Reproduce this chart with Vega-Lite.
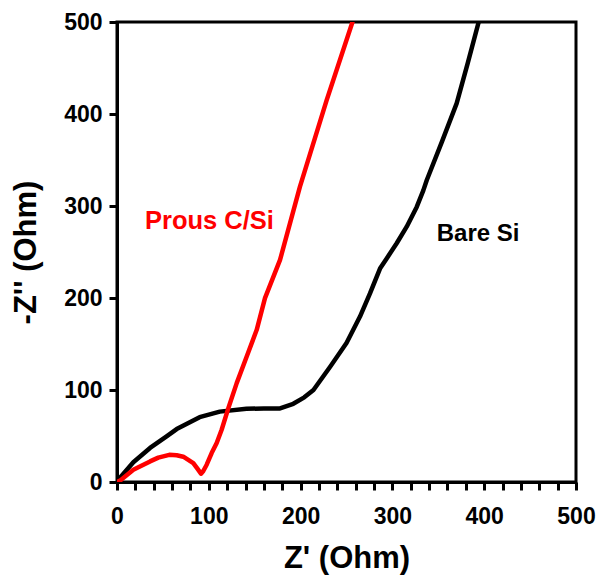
{
  "$schema": "https://vega.github.io/schema/vega-lite/v6.json",
  "width": 459,
  "height": 460,
  "autosize": {"type": "none"},
  "padding": {"left": 117, "top": 22, "right": 25, "bottom": 102},
  "background": "white",
  "config": {"view": {"stroke": "black", "strokeWidth": 3}, "font": "Liberation Sans"},
  "datasets": {
    "curves": [
      {"sample": "Bare Si", "i": 0, "zr": 0, "zi": 0},
      {"sample": "Bare Si", "i": 1, "zr": 1.4, "zi": 2.5},
      {"sample": "Bare Si", "i": 2, "zr": 17.8, "zi": 21.5},
      {"sample": "Bare Si", "i": 3, "zr": 36, "zi": 37},
      {"sample": "Bare Si", "i": 4, "zr": 54, "zi": 49.5},
      {"sample": "Bare Si", "i": 5, "zr": 65, "zi": 57.5},
      {"sample": "Bare Si", "i": 6, "zr": 90, "zi": 70.5},
      {"sample": "Bare Si", "i": 7, "zr": 112, "zi": 76.5},
      {"sample": "Bare Si", "i": 8, "zr": 141, "zi": 79.5},
      {"sample": "Bare Si", "i": 9, "zr": 160, "zi": 80},
      {"sample": "Bare Si", "i": 10, "zr": 177.6, "zi": 80},
      {"sample": "Bare Si", "i": 11, "zr": 192, "zi": 85},
      {"sample": "Bare Si", "i": 12, "zr": 204, "zi": 92},
      {"sample": "Bare Si", "i": 13, "zr": 214, "zi": 100},
      {"sample": "Bare Si", "i": 14, "zr": 232, "zi": 125},
      {"sample": "Bare Si", "i": 15, "zr": 250, "zi": 151},
      {"sample": "Bare Si", "i": 16, "zr": 264.7, "zi": 179.8},
      {"sample": "Bare Si", "i": 17, "zr": 275.6, "zi": 205},
      {"sample": "Bare Si", "i": 18, "zr": 286.5, "zi": 232},
      {"sample": "Bare Si", "i": 19, "zr": 293.8, "zi": 243},
      {"sample": "Bare Si", "i": 20, "zr": 304.7, "zi": 259.5},
      {"sample": "Bare Si", "i": 21, "zr": 315.6, "zi": 277.5},
      {"sample": "Bare Si", "i": 22, "zr": 326.5, "zi": 299},
      {"sample": "Bare Si", "i": 23, "zr": 333.7, "zi": 317},
      {"sample": "Bare Si", "i": 24, "zr": 337.4, "zi": 328},
      {"sample": "Bare Si", "i": 25, "zr": 354, "zi": 370},
      {"sample": "Bare Si", "i": 26, "zr": 370, "zi": 411.5},
      {"sample": "Bare Si", "i": 27, "zr": 382, "zi": 455},
      {"sample": "Bare Si", "i": 28, "zr": 394, "zi": 500},
      {"sample": "Prous C/Si", "i": 0, "zr": 0, "zi": 0},
      {"sample": "Prous C/Si", "i": 1, "zr": 3.3, "zi": 1.5},
      {"sample": "Prous C/Si", "i": 2, "zr": 17.8, "zi": 13.4},
      {"sample": "Prous C/Si", "i": 3, "zr": 36, "zi": 22.4},
      {"sample": "Prous C/Si", "i": 4, "zr": 45, "zi": 26.5},
      {"sample": "Prous C/Si", "i": 5, "zr": 57, "zi": 29.5},
      {"sample": "Prous C/Si", "i": 6, "zr": 65, "zi": 29},
      {"sample": "Prous C/Si", "i": 7, "zr": 72.2, "zi": 27.5},
      {"sample": "Prous C/Si", "i": 8, "zr": 83.1, "zi": 20.6},
      {"sample": "Prous C/Si", "i": 9, "zr": 88, "zi": 14},
      {"sample": "Prous C/Si", "i": 10, "zr": 91.5, "zi": 9},
      {"sample": "Prous C/Si", "i": 11, "zr": 94, "zi": 12},
      {"sample": "Prous C/Si", "i": 12, "zr": 97.7, "zi": 18.8},
      {"sample": "Prous C/Si", "i": 13, "zr": 103.1, "zi": 31.5},
      {"sample": "Prous C/Si", "i": 14, "zr": 108.6, "zi": 42.3},
      {"sample": "Prous C/Si", "i": 15, "zr": 114, "zi": 56.8},
      {"sample": "Prous C/Si", "i": 16, "zr": 121.3, "zi": 80.3},
      {"sample": "Prous C/Si", "i": 17, "zr": 130.4, "zi": 107.5},
      {"sample": "Prous C/Si", "i": 18, "zr": 141.3, "zi": 136.4},
      {"sample": "Prous C/Si", "i": 19, "zr": 152.2, "zi": 165.4},
      {"sample": "Prous C/Si", "i": 20, "zr": 161.2, "zi": 199.8},
      {"sample": "Prous C/Si", "i": 21, "zr": 177.6, "zi": 241.4},
      {"sample": "Prous C/Si", "i": 22, "zr": 199.3, "zi": 321},
      {"sample": "Prous C/Si", "i": 23, "zr": 228.4, "zi": 415},
      {"sample": "Prous C/Si", "i": 24, "zr": 256.5, "zi": 500}
    ],
    "labels": [
      {"sample": "Prous C/Si", "label": "Prous C/Si", "zr": 30.5, "zi": 274.7},
      {"sample": "Bare Si", "label": "Bare Si", "zr": 348.3, "zi": 262.3}
    ],
    "majorTicks": [
      {"zr": 0}, {"zr": 100}, {"zr": 200}, {"zr": 300}, {"zr": 400}, {"zr": 500}
    ]
  },
  "encoding": {
    "x": {
      "field": "zr", "type": "quantitative",
      "scale": {"domain": [0, 500], "nice": false, "zero": false},
      "axis": {
        "title": "Z' (Ohm)",
        "values": [0, 20, 40, 60, 80, 100, 120, 140, 160, 180, 200, 220, 240, 260, 280, 300, 320, 340, 360, 380, 400, 420, 440, 460, 480, 500],
        "labelExpr": "datum.value % 100 === 0 ? datum.label : ''",
        "tickSize": 8,
        "grid": false,
        "labelFlush": false,
        "labelOverlap": false,
        "domainColor": "black", "domainWidth": 3,
        "tickColor": "black", "tickWidth": 3,
        "labelFontSize": 23, "labelFontWeight": "bold", "labelColor": "black", "labelPadding": 15,
        "titleFontSize": 31, "titleFontWeight": "bold", "titleColor": "black", "titlePadding": 15
      }
    },
    "y": {
      "field": "zi", "type": "quantitative",
      "scale": {"domain": [0, 500], "nice": false, "zero": false},
      "axis": {
        "title": "-Z'' (Ohm)",
        "values": [0, 100, 200, 300, 400, 500],
        "grid": false,
        "labelFlush": false,
        "tickSize": 8,
        "domainColor": "black", "domainWidth": 3,
        "tickColor": "black", "tickWidth": 3,
        "labelFontSize": 23, "labelFontWeight": "bold", "labelColor": "black", "labelPadding": 7,
        "titleFontSize": 31, "titleFontWeight": "bold", "titleColor": "black", "titlePadding": 21
      }
    }
  },
  "layer": [
    {
      "data": {"name": "majorTicks"},
      "mark": {"type": "rule", "strokeWidth": 3, "color": "black", "clip": false},
      "encoding": {
        "y": {"datum": -8},
        "y2": {"datum": -17.4}
      }
    },
    {
      "data": {"name": "curves"},
      "mark": {"type": "line", "strokeWidth": 4.5, "clip": true, "strokeJoin": "round", "strokeCap": "round"},
      "encoding": {
        "color": {"field": "sample", "type": "nominal", "scale": {"domain": ["Bare Si", "Prous C/Si"], "range": ["#000000", "#FF0000"]}, "legend": null},
        "order": {"field": "i", "type": "quantitative"}
      }
    },
    {
      "data": {"name": "labels"},
      "transform": [{"filter": "datum.sample === 'Prous C/Si'"}],
      "mark": {"type": "text", "align": "left", "baseline": "alphabetic", "fontSize": 25.5, "fontWeight": "bold", "color": "#FF0000"},
      "encoding": {
        "text": {"field": "label"}
      }
    },
    {
      "data": {"name": "labels"},
      "transform": [{"filter": "datum.sample === 'Bare Si'"}],
      "mark": {"type": "text", "align": "left", "baseline": "alphabetic", "fontSize": 24, "fontWeight": "bold", "color": "#000000"},
      "encoding": {
        "text": {"field": "label"}
      }
    }
  ]
}
